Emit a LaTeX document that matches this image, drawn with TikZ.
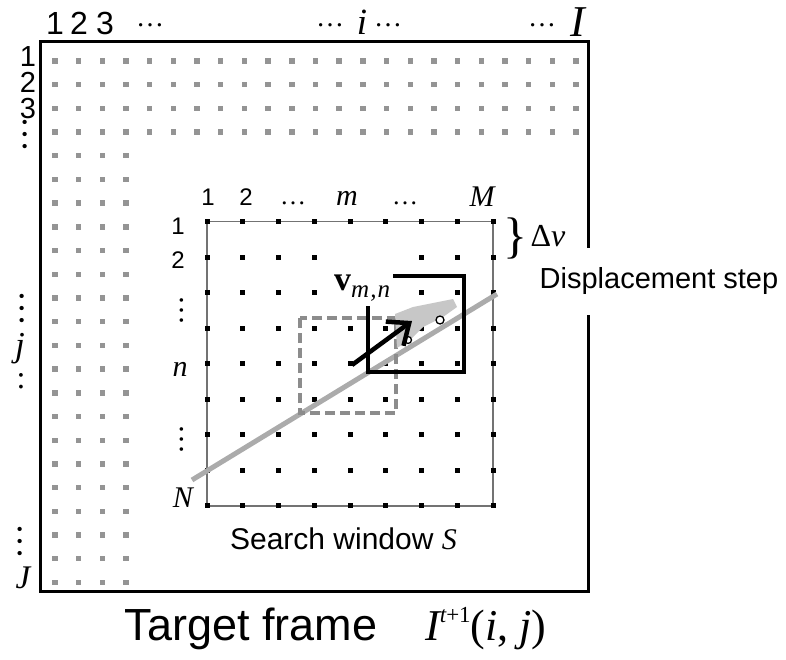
\documentclass[tikz,border=0pt]{standalone}
\usepackage{fontspec}
\setmainfont{Liberation Serif}
\setsansfont{Liberation Sans}
\usetikzlibrary{arrows.meta}
\newcommand{\fsz}[1]{\fontsize{#1}{#1}\selectfont}
\begin{document}
\begin{tikzpicture}[x=1pt, y=-1pt,
  lab/.style={inner sep=0pt, anchor=base},
  num/.style={lab, font=\sffamily\fsz{#1}},
  var/.style={lab, font=\rmfamily\itshape\fsz{#1}},
  dts/.style={lab, font=\rmfamily\fsz{#1}},
  vdt/.style={inner sep=0pt, rotate=-90, font=\rmfamily\fsz{#1}},
  gdot/.style={fill=black!42},
  bdot/.style={fill=black},
  frame/.style={line width=3pt},
  window/.style={draw=black!55, line width=1.3pt},
  track/.style={draw=black!33, line width=5pt},
  oldblk/.style={draw=black!45, line width=4pt, dash pattern=on 10pt off 5pt},
  newblk/.style={draw=black, line width=4.5pt},
  ]
\useasboundingbox (0,0) rectangle (786,660);

% target frame and its pixel grid
\draw[frame] (40,42) rectangle (588,591);
\foreach \i in {0,...,22}
  \foreach \j in {0,...,22}{
    \pgfmathtruncatemacro{\keep}{(\i<4)||(\j<4)}
    \ifnum\keep=1
      \fill[gdot] ({52.3+23.68*\i},{58.3+23.7*\j}) rectangle ++(5.4,5.4);
    \fi}

\node[num=32] (c1) at (55,35) {1};
\node[num=32] (c2) at (79,35) {2};
\node[num=32] (c3) at (105,35) {3};
\node[dts=28] (cd1) at (150,27) {…};
\node[dts=28] (cd2) at (330,27) {…};
\node[var=37] (ci) at (362,35) {i};
\node[dts=28] (cd3) at (388,27) {…};
\node[dts=28] (cd4) at (542,27) {…};
\node[var=44] (cI) at (578,37) {I};

\node[num=29] (r1) at (28,67) {1};
\node[num=29] (r2) at (28,93) {2};
\node[num=29] (r3) at (28,119) {3};
\node[vdt=36] (rd1) at (25,135) {…};
\node[vdt=36] (rd2) at (22,308.5) {…};
\node[var=35] (rj) at (20,356) {j};
\node[dts=32, anchor=center] (rd3) at (21,381) {:};
\node[vdt=36] (rd4) at (20,541.5) {…};
\node[var=33] (rJ) at (23,588) {J};

% search window
\draw[window] (207,221.5) rectangle (493,506);
\foreach \i in {0,...,8}
  \foreach \j in {0,...,8}
    \fill[bdot] ({204.5+35.75*\i},{219+35.56*\j}) rectangle ++(5,5);

\node[num=24] (m1) at (208,206) {1};
\node[num=24] (m2) at (246,206) {2};
\node[dts=26] (md1) at (293,205) {…};
\node[var=30] (mm) at (347,206) {m};
\node[dts=26] (md2) at (405,205) {…};
\node[var=30] (mM) at (482,207) {M};

\node[num=24] (n1) at (178,234) {1};
\node[num=24] (n2) at (178,268) {2};
\node[vdt=30] (nd1) at (182,310) {…};
\node[var=30] (nn) at (180,376) {n};
\node[vdt=30] (nd2) at (182,439) {…};
\node[var=30] (nN) at (183,507) {N};

\node[dts=50, anchor=center] (brace) at (515,238) {\}};
\node[var=32] (dv) at (548,246) {{\upshape Δ}v};
\node[font=\sffamily\fsz{29}, fill=white, minimum height=67pt, inner xsep=3pt] (disp) at (659,281.5) {Displacement step};
\node[num=30] (sw) at (343.5,549) {Search window {\rmfamily\itshape S}};

% motion path, old and new block
\coordinate (p0) at (192,480);
\coordinate (p1) at (497,294);
\draw[track] (p0) -- (p1);
\draw[oldblk] (300,318) rectangle (396,413);
\draw[newblk] (368,276) rectangle (464,372);
\fill[white] (322,249) rectangle (393,306);
\node[dts=34, anchor=base west] (vmn) at (334,290) {\textbf{v}\raisebox{-7pt}{\itshape\fsz{25}m\kern1pt,\kern1pt n}};

\fill[black!22] (395,314) -- (413,307) -- (433,303) -- (453,299) -- (457,307) -- (443,317)
  -- (423,327) -- (410,340) -- (397,348) -- cycle;
\draw[line width=1.3pt, fill=white] (408,340) circle (3.5pt);
\fill (422,330) circle (1.3pt);
\draw[line width=1.3pt, fill=white] (440,320) circle (4pt);
\coordinate (v0) at (352,365);
\coordinate (v1) at (412,321);
\draw[line width=4.5pt, -{Straight Barb[length=18pt, width=30pt]}] (v0) -- (v1);

\node[num=45] (tf) at (251,640) {Target frame};
\node[dts=44, anchor=base west] (img) at (425,640) {{\itshape I}\raisebox{18pt}{\fsz{23}{\itshape t}+1}(\textit{i}, \textit{j})};
\end{tikzpicture}
\end{document}
